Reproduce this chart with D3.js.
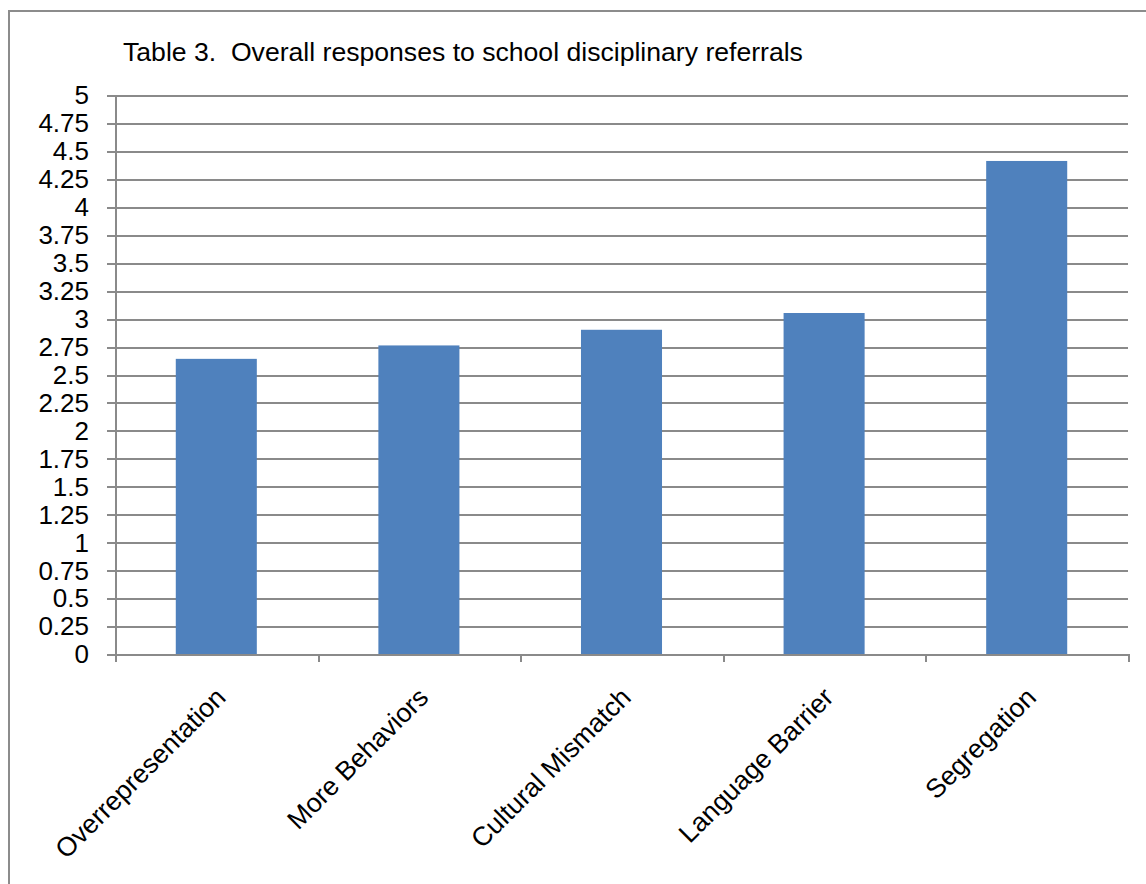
<!DOCTYPE html>
<html>
<head>
<meta charset="utf-8">
<script src="https://cdn.jsdelivr.net/npm/d3@7"></script>
<style>
  body { margin: 0; background: #fff; }
  svg { display: block; font-family: Arial, "Liberation Sans", sans-serif; }
</style>
</head>
<body>
<div id="chart"></div>
<script>
// chart data
var categories = ["Overrepresentation", "More Behaviors", "Cultural Mismatch", "Language Barrier", "Segregation"];
var values = [2.64, 2.76, 2.90, 3.05, 4.41];
var yTicks = [0, 0.25, 0.5, 0.75, 1, 1.25, 1.5, 1.75, 2, 2.25, 2.5, 2.75, 3, 3.25, 3.5, 3.75, 4, 4.25, 4.5, 4.75, 5];
var title = "Table 3.\u00a0 Overall responses to school disciplinary referrals";

function init(){
    var w = 1146, h = 884;
    var left = 115, right = 1128, top = 95, bottom = 654;
    var gridColor = "#8a8a8a";

    var svg = d3.select("#chart").append("svg")
                .attr("width", w)
                .attr("height", h);

    // outer chart border
    svg.append("rect")
        .attr("x", 9).attr("y", 11)
        .attr("width", w + 20).attr("height", h + 20)
        .attr("fill", "#fff")
        .attr("stroke", "#8c8c8c")
        .attr("stroke-width", 2);

    var xScale = d3.scaleBand()
                    .domain(categories)
                    .range([left, right])
                    .padding(0);

    var yScale = d3.scaleLinear()
                    .domain([0, 5])
                    .range([bottom, top]);

    // horizontal gridlines (with small left ticks)
    svg.selectAll("line.grid")
        .data(yTicks)
        .enter()
        .append("line")
        .attr("class", "grid")
        .attr("x1", left - 8)
        .attr("x2", right)
        .attr("y1", function(d){ return Math.round(yScale(d)) + 1; })
        .attr("y2", function(d){ return Math.round(yScale(d)) + 1; })
        .attr("stroke", gridColor)
        .attr("stroke-width", 2);

    // y tick labels
    svg.selectAll("text.ytick")
        .data(yTicks)
        .enter()
        .append("text")
        .attr("class", "ytick")
        .attr("x", 89)
        .attr("y", function(d){ return yScale(d); })
        .attr("dy", "0.36em")
        .attr("text-anchor", "end")
        .attr("font-size", "26px")
        .attr("fill", "#000")
        .text(function(d){ return d; });

    // bars
    var barW = xScale.bandwidth() * 0.4;
    svg.selectAll("rect.bar")
        .data(values)
        .enter()
        .append("rect")
        .attr("class", "bar")
        .attr("x", function(d, i){ return xScale(categories[i]) + (xScale.bandwidth() - barW) / 2; })
        .attr("y", function(d){ return yScale(d); })
        .attr("width", barW)
        .attr("height", function(d){ return bottom - yScale(d); })
        .attr("fill", "#4f81bd");

    // y axis line
    svg.append("line")
        .attr("x1", left + 1).attr("x2", left + 1)
        .attr("y1", top).attr("y2", bottom + 8)
        .attr("stroke", gridColor)
        .attr("stroke-width", 2);

    // x axis line and ticks at band edges
    svg.append("line")
        .attr("x1", left).attr("x2", right + 1)
        .attr("y1", Math.round(bottom) + 1).attr("y2", Math.round(bottom) + 1)
        .attr("stroke", gridColor)
        .attr("stroke-width", 2);

    var edges = categories.map(function(c){ return xScale(c); }).concat([right]);
    svg.selectAll("line.xtick")
        .data(edges)
        .enter()
        .append("line")
        .attr("class", "xtick")
        .attr("x1", function(d){ return Math.round(d) + 1; })
        .attr("x2", function(d){ return Math.round(d) + 1; })
        .attr("y1", bottom)
        .attr("y2", bottom + 8)
        .attr("stroke", gridColor)
        .attr("stroke-width", 2);

    // rotated category labels
    svg.selectAll("text.xlab")
        .data(categories)
        .enter()
        .append("text")
        .attr("class", "xlab")
        .attr("text-anchor", "end")
        .attr("font-size", "26.6px")
        .attr("fill", "#000")
        .attr("transform", function(d){
            var cx = xScale(d) + xScale.bandwidth() / 2 + 11;
            return "translate(" + cx + ",699) rotate(-45)";
        })
        .text(function(d){ return d; });

    // title
    svg.append("text")
        .attr("x", 123)
        .attr("y", 61)
        .attr("font-size", "26.6px")
        .attr("fill", "#000")
        .text(title);
}
window.onload = init;
</script>
</body>
</html>
